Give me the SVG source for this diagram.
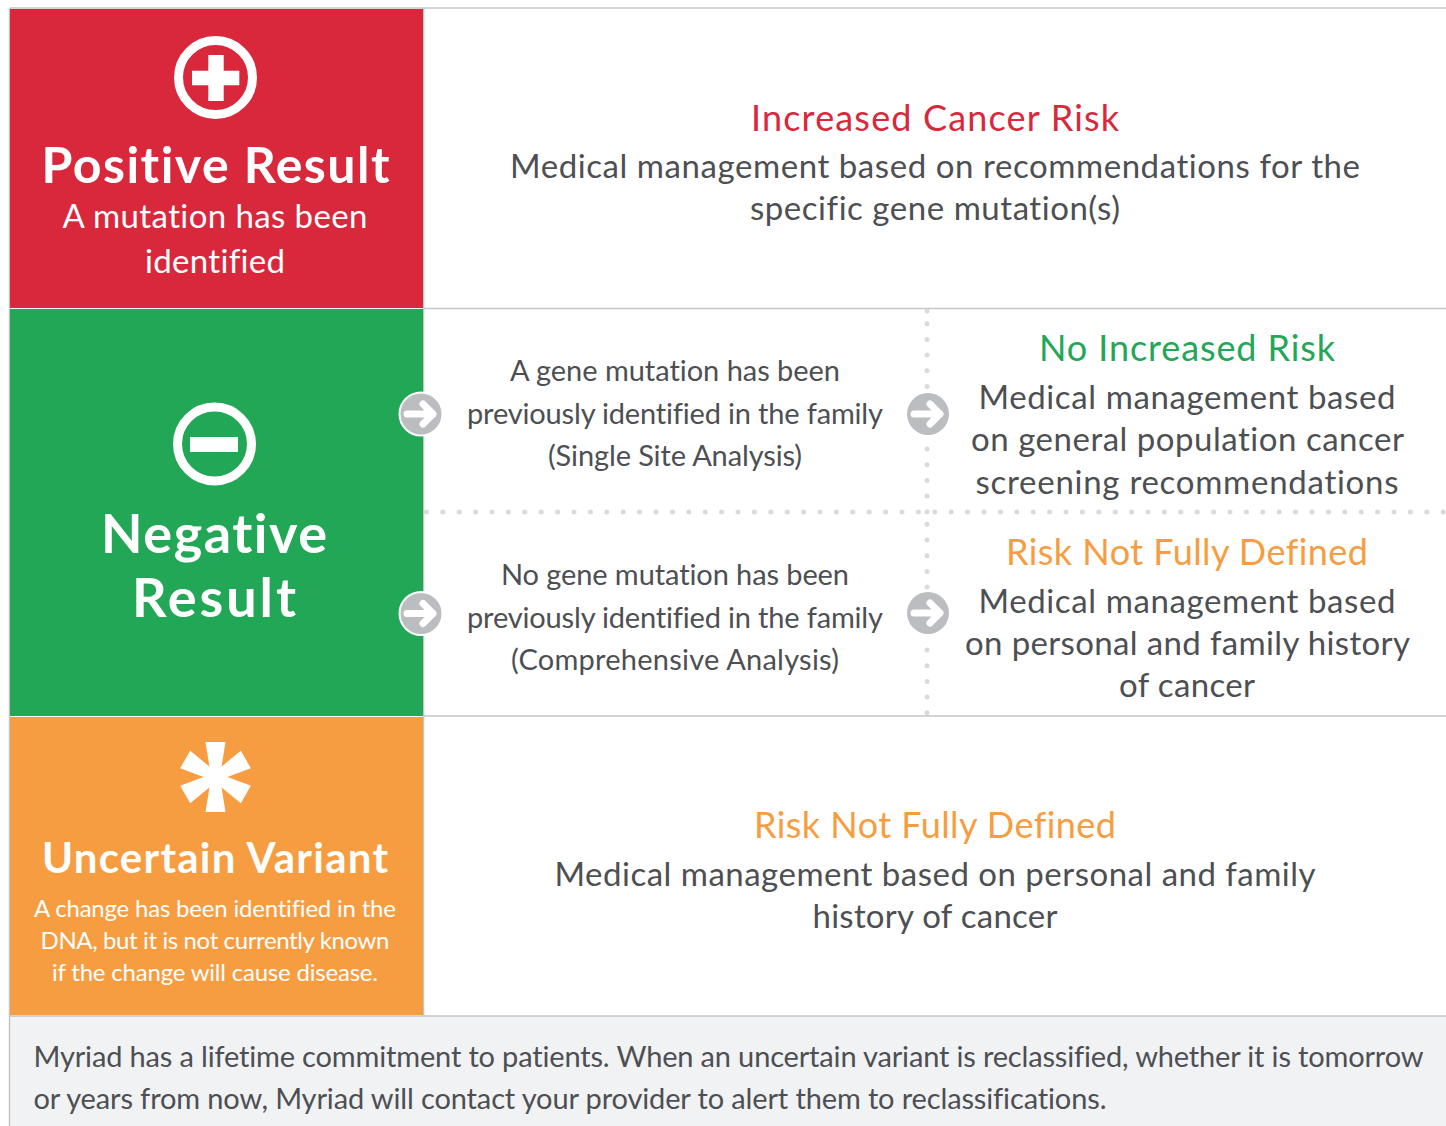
<svg xmlns="http://www.w3.org/2000/svg" width="1446" height="1126" viewBox="0 0 1446 1126">
<style>
text{font-family:Lato,"Open Sans","Liberation Sans",sans-serif;text-anchor:middle;font-variant-ligatures:none}
.w{fill:#fff}.d{fill:#4d4f53}.b{font-weight:700}
.h{font-size:36px}.t{font-size:33px}.s{font-size:29px}
.grid{stroke:#c4c5c8;stroke-width:1.500;fill:none}
.dots{stroke:#d9dadc;stroke-width:5;stroke-linecap:round;fill:none}
.dotsv{stroke-dasharray:0 15.700}.dotsh{stroke-dasharray:0 16.400}
.disc{fill:#bcbdc1}
.arr{stroke:#fff;stroke-width:7;fill:none;stroke-linecap:round;stroke-linejoin:round}
</style>
<defs>
<g id="arrow"><path class="arr" d="M-14 0H12M2-10L12 0L2 10"/></g>
<polygon id="arm" points="-10,-35 10,-35 5,-4 -5,-4" fill="#fff"/>
</defs>
<rect width="1446" height="1126" fill="#fff"/>
<g id="footer">
<rect x="10" y="1016" width="1436" height="110" fill="#f1f2f4"/>
<text class="d s" x="728.500" y="1067" textLength="1390">Myriad has a lifetime commitment to patients. When an uncertain variant is reclassified, whether it is tomorrow</text>
<text class="d s" x="570" y="1109" textLength="1073">or years from now, Myriad will contact your provider to alert them to reclassifications.</text>
</g>
<g id="connectors">
<path class="grid" d="M10 8H1446M423 308.500H1446M423 716H1446M10 1016H1446M9.500 8V1126M423.500 8V1016"/>
<path class="dots dotsh" d="M426.400 512H1446"/>
<path class="dots dotsv" d="M927 311V312M927 323.700V387M927 449V512M927 524.300V590M927 650V714"/>
</g>
<g id="positive">
<rect x="10" y="9" width="413" height="299" fill="#d9283c"/>
<circle cx="215.500" cy="77.500" r="37" fill="none" stroke="#fff" stroke-width="9"/>
<path class="w" d="M208.300 55H223.700V70.700H239.300V85.300H223.700V101H208.300V85.300H192V70.700H208.300Z"/>
<text class="w b" x="215.500" y="183" font-size="50" textLength="348">Positive Result</text>
<text class="w t" x="215" y="228" textLength="305">A mutation has been</text>
<text class="w t" x="215" y="273" textLength="140">identified</text>
</g>
<g id="negative">
<rect x="10" y="309" width="413" height="407" fill="#22a757"/>
<circle cx="214.500" cy="444" r="37" fill="none" stroke="#fff" stroke-width="9"/>
<rect x="190" y="437" width="48" height="15" fill="#fff"/>
<text class="w b" x="214" y="553" font-size="54" textLength="226">Negative</text>
<text class="w b" x="214" y="617" font-size="54" textLength="164">Result</text>
</g>
<g id="uncertain">
<rect x="10" y="717" width="413" height="298" fill="#f79d41"/>
<g transform="translate(215.500 777)">
<circle r="7" fill="#fff"/>
<use href="#arm"/><use href="#arm" transform="rotate(60)"/><use href="#arm" transform="rotate(120)"/><use href="#arm" transform="rotate(180)"/><use href="#arm" transform="rotate(240)"/><use href="#arm" transform="rotate(300)"/>
</g>
<text class="w b" x="215" y="873" font-size="42" textLength="346">Uncertain Variant</text>
<text class="w" x="215" y="916.500" font-size="24" textLength="362">A change has been identified in the</text>
<text class="w" x="215" y="948.500" font-size="24" textLength="349">DNA, but it is not currently known</text>
<text class="w" x="215" y="980.500" font-size="24" textLength="326">if the change will cause disease.</text>
</g>
<g id="increased">
<text class="h" fill="#d9283c" x="935" y="130.500" textLength="368">Increased Cancer Risk</text>
<text class="d t" x="935" y="177.500" textLength="850">Medical management based on recommendations for the</text>
<text class="d t" x="935" y="220" textLength="370">specific gene mutation(s)</text>
</g>
<g id="single-site">
<text class="d s" x="675" y="380.500" textLength="330">A gene mutation has been</text>
<text class="d s" x="675" y="423.500" textLength="416">previously identified in the family</text>
<text class="d s" x="675" y="465.500" textLength="254">(Single Site Analysis)</text>
</g>
<g id="comprehensive">
<text class="d s" x="675" y="584.500" textLength="348">No gene mutation has been</text>
<text class="d s" x="675" y="627.500" textLength="416">previously identified in the family</text>
<text class="d s" x="675" y="669.500" textLength="328">(Comprehensive Analysis)</text>
</g>
<g id="no-increased">
<text class="h" fill="#22a757" x="1187" y="361" textLength="296">No Increased Risk</text>
<text class="d t" x="1187" y="408.500" textLength="417">Medical management based</text>
<text class="d t" x="1187.500" y="451" textLength="433">on general population cancer</text>
<text class="d t" x="1187" y="493.500" textLength="423">screening recommendations</text>
</g>
<g id="not-defined-a">
<text class="h" fill="#f79d41" x="1187" y="565" textLength="362">Risk Not Fully Defined</text>
<text class="d t" x="1187" y="612.500" textLength="417">Medical management based</text>
<text class="d t" x="1187.500" y="655" textLength="445">on personal and family history</text>
<text class="d t" x="1187" y="697" textLength="136">of cancer</text>
</g>
<g id="not-defined-b">
<text class="h" fill="#f79d41" x="935" y="838" textLength="362">Risk Not Fully Defined</text>
<text class="d t" x="935" y="885.500" textLength="761">Medical management based on personal and family</text>
<text class="d t" x="935" y="928" textLength="245">history of cancer</text>
</g>
<g id="arrow-1"><circle class="disc" cx="421" cy="414" r="21.500" stroke="#fff" stroke-width="2"/><use href="#arrow" x="421" y="414"/></g>
<g id="arrow-2"><circle class="disc" cx="421" cy="613.500" r="21.500" stroke="#fff" stroke-width="2"/><use href="#arrow" x="421" y="613.500"/></g>
<g id="arrow-3"><circle class="disc" cx="928" cy="414" r="21"/><use href="#arrow" x="928" y="414"/></g>
<g id="arrow-4"><circle class="disc" cx="928" cy="613" r="21"/><use href="#arrow" x="928" y="613"/></g>
</svg>
